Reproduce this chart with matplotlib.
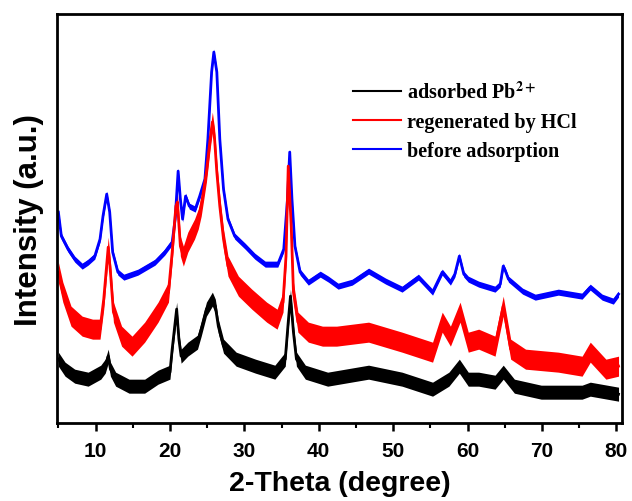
import numpy as np
import matplotlib
matplotlib.use("Agg")
import matplotlib.pyplot as plt
from matplotlib.lines import Line2D

# 2-theta / intensity (intensity in arbitrary units)
blue_tt = [5.0, 5.4, 6.3, 7.2, 8.2, 9.0, 9.9, 10.6, 11.0, 11.5, 11.9, 12.3,
           13.0, 13.8, 15.7, 18.0, 19.3, 20.3, 20.7, 21.1, 21.4, 21.7, 22.1,
           22.6, 23.4, 24.0, 24.7, 25.1, 25.6, 25.9, 26.3, 26.7, 27.2, 27.8,
           28.7, 30.1, 31.4, 32.8, 34.5, 35.3, 35.8, 36.1, 36.4, 36.8, 37.5,
           38.6, 40.2, 41.3, 42.6, 44.5, 46.7, 49.0, 51.2, 53.4, 55.3, 56.6,
           57.7, 58.3, 58.9, 59.5, 60.1, 61.5, 63.7, 64.4, 64.8, 65.1, 65.5,
           67.4, 69.1, 72.2, 75.4, 76.5, 78.1, 79.6, 80.3]
blue_int = [211, 187, 174, 164, 157, 161, 167, 184, 207, 229, 211, 171,
            151, 146, 151, 161, 171, 181, 204, 252, 224, 204, 227,
            217, 214, 227, 244, 284, 351, 371, 351, 284, 234, 204,
            187, 177, 167, 159, 159, 174, 224, 271, 224, 177, 151,
            141, 149, 144, 137, 141, 152, 142, 134, 146, 131, 151,
            141, 149, 167, 149, 144, 139, 134, 139, 157, 152, 144,
            132, 126, 131, 127, 136, 126, 122, 129]
blue_noise = 3

red_tt = [5.0, 5.6, 6.7, 8.2, 9.6, 10.6, 11.1, 11.7, 12.0, 12.4, 13.5, 14.9,
          16.6, 18.4, 19.8, 20.3, 20.8, 21.0, 21.4, 21.8, 22.4, 23.3, 23.8,
          24.2, 24.9, 25.4, 25.7, 26.0, 26.3, 26.7, 27.2, 27.8, 29.2, 31.0,
          33.0, 34.4, 35.2, 35.6, 35.9, 36.3, 36.6, 37.2, 38.6, 40.5, 42.4,
          46.7, 51.2, 55.3, 56.6, 57.7, 59.0, 60.1, 61.5, 63.7, 64.8, 65.8,
          67.8, 72.2, 75.4, 76.5, 78.6, 80.3]
red_int = [151, 131, 107, 97, 94, 94, 124, 176, 151, 111, 87, 77,
           91, 111, 131, 171, 217, 221, 177, 167, 181, 194, 204,
           217, 251, 284, 301, 284, 251, 217, 184, 157, 137, 124,
           111, 104, 121, 167, 257, 197, 131, 101, 91, 87, 87,
           91, 81, 71, 101, 87, 111, 81, 84, 77, 117, 74,
           64, 61, 57, 71, 54, 57]
red_noise = 10

black_tt = [5.0, 5.9, 7.2, 9.0, 10.7, 11.3, 11.7, 12.0, 12.7, 14.5, 16.6,
            18.4, 20.0, 20.3, 20.9, 21.2, 21.5, 22.4, 23.7, 24.2, 24.9, 25.7,
            26.1, 26.5, 27.2, 28.9, 31.5, 34.1, 35.5, 35.9, 36.2, 36.6, 37.0,
            38.2, 41.2, 46.7, 51.2, 55.3, 57.5, 58.9, 60.1, 61.5, 63.7, 64.8,
            66.3, 69.9, 75.4, 76.5, 80.3]
black_int = [64, 54, 47, 44, 51, 57, 67, 54, 44, 37, 37,
             46, 51, 74, 114, 84, 67, 74, 81, 94, 114, 124,
             117, 97, 77, 64, 57, 51, 64, 101, 127, 91, 64,
             51, 44, 51, 44, 34, 44, 57, 44, 44, 41, 51,
             37, 31, 31, 34, 29]
black_noise = 7

series = [
    ("adsorbed Pb$^{\\mathbf{2+}}$", black_tt, black_int, black_noise, "black"),
    ("regenerated by HCl", red_tt, red_int, red_noise, "#ff0000"),
    ("before adsorption", blue_tt, blue_int, blue_noise, "#0000ff"),
]

plt.rcParams["mathtext.fontset"] = "stix"

fig = plt.figure(figsize=(6.32, 5.02), dpi=100)
ax = fig.add_axes([0.090, 0.155, 0.894, 0.815])

for label, tt, inten, noise, color in series[::-1]:
    tt = np.array(tt)
    inten = np.array(inten)
    ax.fill_between(tt, inten - noise, inten + noise, color=color, lw=0)
    ax.plot(tt, inten, color=color, lw=2)

ax.set_xlim(4.8, 80.75)
ax.set_ylim(0, 409)
ax.set_xticks(range(10, 81, 10))
ax.set_xticks(range(5, 81, 5), minor=True)
ax.set_yticks([])
for sp in ax.spines.values():
    sp.set_linewidth(2)
ax.tick_params(axis="x", which="major", direction="out", length=6, width=1.8,
               labelsize=15, pad=7)
ax.tick_params(axis="x", which="minor", direction="out", length=3.5, width=1.5)
for t in ax.get_xticklabels():
    t.set_fontweight("bold")
    t.set_family(["Liberation Sans", "DejaVu Sans"])

ax.set_xlabel("2-Theta (degree)", fontsize=20.5, fontweight="bold",
              family=["Liberation Sans", "DejaVu Sans"], labelpad=7)
ax.set_ylabel("Intensity (a.u.)", fontsize=22.5, fontweight="bold",
              family=["Liberation Sans", "DejaVu Sans"], labelpad=9)

handles = [Line2D([], [], color=c, lw=1.5) for _, _, _, _, c in series]
labels = [s[0] for s in series]
ax.legend(handles, labels, loc="upper left", bbox_to_anchor=(0.524, 0.836),
          frameon=False, borderpad=0, borderaxespad=0, handlelength=2.4,
          handletextpad=0.3, labelspacing=0.45,
          prop={"family": "Liberation Serif", "weight": "bold", "size": 14.5})

fig.savefig("out.png", dpi=100)
